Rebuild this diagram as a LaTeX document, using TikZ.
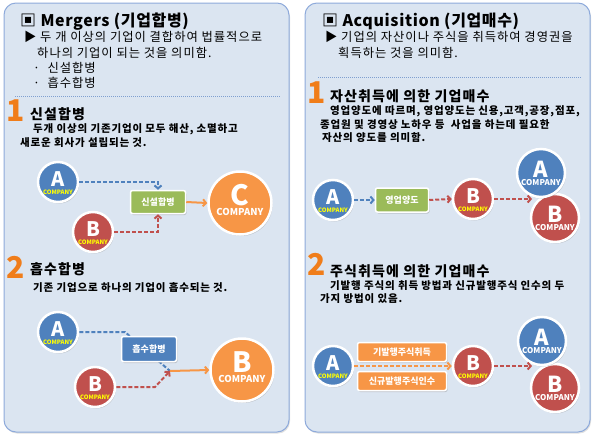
\documentclass[tikz,border=0pt]{standalone}
\usepackage{fontspec}
\setmainfont{Noto Sans CJK KR}
\newfontfamily\krsp{Noto Sans CJK KR}[LetterSpace=8]
\newfontfamily\krsq{Noto Sans CJK KR}[LetterSpace=4]
\usetikzlibrary{shadows,arrows.meta}
\definecolor{panelfill}{HTML}{DBE5F1}
\definecolor{panelline}{HTML}{8EAADB}
\definecolor{cblue}{HTML}{4F81BD}
\definecolor{cred}{HTML}{C0504D}
\definecolor{corange}{HTML}{F79646}
\definecolor{cgreen}{HTML}{9BBB59}
\definecolor{numorange}{HTML}{F07D1A}
\definecolor{cyellow}{HTML}{FFFF00}
\definecolor{dotblue}{HTML}{7F9FD0}
\newcommand\mytitlefont{\krsq\fontsize{16}{18}\selectfont\bfseries}
\newcommand\mybodyfont{\krsp\fontsize{12.3}{14}\selectfont}
\newcommand\myheadfont{\krsp\fontsize{14}{16}\selectfont\bfseries}
\newcommand\mysubfont{\krsp\fontsize{10.5}{12}\selectfont\bfseries}
\tikzset{
 panel/.style={draw=panelline, line width=1pt, fill=panelfill, rounded corners=12pt,
   drop shadow={opacity=0.25, shadow xshift=1pt, shadow yshift=-1.5pt}},
 txt/.style={anchor=base west, inner sep=0pt, text=black},
 numeral/.style={anchor=north west, inner sep=0pt, text=numorange, font=\fontsize{30}{30}\selectfont\bfseries},
 sepline/.style={draw=dotblue, line width=0.8pt, dash pattern=on 1pt off 1pt},
 co/.style={circle, draw=white, line width=2.5pt, minimum size=40pt, inner sep=0pt,
   drop shadow={opacity=0.35, shadow xshift=1pt, shadow yshift=-1.5pt}},
 coM/.style={co, minimum size=48pt},
 coL/.style={co, minimum size=63pt},
 letS/.style={inner sep=0pt, text=white, font=\fontsize{20}{20}\selectfont\bfseries},
 compS/.style={inner sep=0pt, text=cyellow, font=\fontsize{6}{6}\selectfont\bfseries},
 letM/.style={inner sep=0pt, text=white, font=\fontsize{22}{22}\selectfont\bfseries},
 compM/.style={inner sep=0pt, text=white, font=\fontsize{8}{8}\selectfont\bfseries},
 letL/.style={inner sep=0pt, text=white, font=\fontsize{28}{28}\selectfont\bfseries},
 compL/.style={inner sep=0pt, text=white, font=\fontsize{9.5}{9.5}\selectfont\bfseries},
 proc/.style={rounded corners=2pt, draw=white, line width=1.5pt, text=white, inner sep=0pt,
   font=\fontsize{9}{9}\selectfont\bfseries,
   drop shadow={opacity=0.35, shadow xshift=1pt, shadow yshift=-1.5pt}},
 dl/.style={line width=2pt, dash pattern=on 4pt off 2pt},
 tip/.style={-{Straight Barb[length=3pt,width=7pt]}},
}
\begin{document}
\begin{tikzpicture}[x=1pt,y=-1pt]
\useasboundingbox (0,0) rectangle (600,437);
% panels
\path[panel] (4,3) rectangle (289,432);
\path[panel] (305,3) rectangle (590,432);

% ---------- left panel ----------
\node[txt, font=\mytitlefont] (lt) at (20,26) {▣ Mergers (기업합병)};
\node[txt, font=\mybodyfont] (l1) at (24,41) {▶ 두 개 이상의 기업이 결합하여 법률적으로};
\node[txt, font=\mybodyfont] (l2) at (37,57) {하나의 기업이 되는 것을 의미함.};
\node[txt, font=\mybodyfont] (l3) at (33,72) {·\ \ 신설합병};
\node[txt, font=\mybodyfont] (l4) at (33,87) {·\ \ 흡수합병};
\draw[sepline] (15,96) -- (281,96);

\node[numeral] (n1) at (6,100) {1};
\node[txt, font=\myheadfont] (h1) at (30,119) {신설합병};
\node[txt, font=\mysubfont] (s1a) at (33,132) {두개 이상의 기존기업이 모두 해산, 소멸하고};
\node[txt, font=\mysubfont] (s1b) at (20,146) {새로운 회사가 설립되는 것.};

\node[co, fill=cblue] (a1) at (58,182) {};
\node[letS] at ([yshift=3pt]a1.center) {A};
\node[compS] at ([yshift=-10pt]a1.center) {COMPANY};
\node[co, fill=cred] (b1) at (93,232) {};
\node[letS] at ([yshift=3pt]b1.center) {B};
\node[compS] at ([yshift=-10pt]b1.center) {COMPANY};
\node[proc, fill=cgreen, minimum width=55pt, minimum height=23pt] (g1) at (158,202) {신설합병};
\node[coL, fill=corange] (c1) at (240,203) {};
\node[letL] at ([yshift=8pt]c1.center) {C};
\node[compL] at ([yshift=-9pt]c1.center) {COMPANY};
\draw[dl, tip, cblue] (a1.east) -| (g1.north);
\draw[dl, tip, cred] (b1.east) -| (g1.south);
\draw[line width=2pt, tip, corange] (g1.east) -- (c1.west);

\node[numeral] (n2) at (6,256) {2};
\node[txt, font=\myheadfont] (h2) at (30,274) {흡수합병};
\node[txt, font=\mysubfont] (s2a) at (33,291) {기존 기업으로 하나의 기업이 흡수되는 것.};

\node[co, fill=cblue] (a2) at (58,332) {};
\node[letS] at ([yshift=3pt]a2.center) {A};
\node[compS] at ([yshift=-10pt]a2.center) {COMPANY};
\node[co, fill=cred] (b2) at (95,387) {};
\node[letS] at ([yshift=3pt]b2.center) {B};
\node[compS] at ([yshift=-10pt]b2.center) {COMPANY};
\node[coL, fill=corange] (bb2) at (242,370) {};
\node[letL] at ([yshift=8pt]bb2.center) {B};
\node[compL] at ([yshift=-9pt]bb2.center) {COMPANY};
\coordinate (k1) at (125,332);
\coordinate (k2) at (155,387);
\coordinate (m2) at (170,371);
\draw[dl, cblue] (a2.east) -- (k1) -- (m2);
\node[proc, fill=cblue, minimum width=55pt, minimum height=25pt] (g2) at (149,349) {흡수합병};
\draw[dl, tip, cred] (b2.east) -- (k2) -- (m2);
\draw[line width=2pt, tip, corange] (m2) -- (bb2.west);

% ---------- right panel ----------
\node[txt, font=\mytitlefont] (rt) at (322,26) {▣ Acquisition (기업매수)};
\node[txt, font=\mybodyfont] (r1) at (325,41) {▶ 기업의 자산이나 주식을 취득하여 경영권을};
\node[txt, font=\mybodyfont] (r2) at (338,57) {획득하는 것을 의미함.};
\draw[sepline] (318,77) -- (582,77);

\node[numeral] (n3) at (307,82) {1};
\node[txt, font=\myheadfont] (h3) at (330,101) {자산취득에 의한 기업매수};
\node[txt, font=\mysubfont] (s3a) at (330,114) {영업양도에 따르며, 영업양도는 신용,고객,공장,점포,};
\node[txt, font=\mysubfont] (s3b) at (320,128) {종업원 및 경영상 노하우 등\ \ 사업을 하는데 필요한};
\node[txt, font=\mysubfont] (s3c) at (322,141) {자산의 양도를 의미함.};

\node[co, fill=cblue] (a3) at (333,200) {};
\node[letS] at ([yshift=3pt]a3.center) {A};
\node[compS] at ([yshift=-10pt]a3.center) {COMPANY};
\node[proc, fill=cgreen, minimum width=53pt, minimum height=24pt] (g3) at (402,200) {영업양도};
\node[co, fill=cred] (b3) at (473,199) {};
\node[letS] at ([yshift=3pt]b3.center) {B};
\node[compS] at ([yshift=-10pt]b3.center) {COMPANY};
\node[coM, fill=cred] (bb3) at (555,218) {};
\node[letM] at ([yshift=4pt]bb3.center) {B};
\node[compM] at ([yshift=-10pt]bb3.center) {COMPANY};
\node[coM, fill=cblue] (ba3) at (541,173) {};
\node[letM] at ([yshift=4pt]ba3.center) {A};
\node[compM] at ([yshift=-10pt]ba3.center) {COMPANY};
\coordinate (t3) at (532,199);
\draw[dl, tip, cblue] (a3.east) -- (g3.west);
\draw[dl, tip, cred] (g3.east) -- (b3.west);
\draw[dl, tip, cred] (b3.east) -- (t3);

\node[numeral] (n4) at (307,253) {2};
\node[txt, font=\myheadfont] (h4) at (330,276) {주식취득에 의한 기업매수};
\node[txt, font=\mysubfont] (s4a) at (330,289) {기발행 주식의 취득 방법과 신규발행주식 인수의 두};
\node[txt, font=\mysubfont] (s4b) at (320,302) {가지 방법이 있음.};

\node[co, fill=cblue] (a4) at (333,366) {};
\node[letS] at ([yshift=3pt]a4.center) {A};
\node[compS] at ([yshift=-10pt]a4.center) {COMPANY};
\node[proc, fill=corange, minimum width=89pt, minimum height=19pt] (o1) at (402,352) {기발행주식취득};
\node[proc, fill=corange, minimum width=89pt, minimum height=19pt] (o2) at (402,381) {신규발행주식인수};
\node[co, fill=cred] (b4) at (473,366) {};
\node[letS] at ([yshift=3pt]b4.center) {B};
\node[compS] at ([yshift=-10pt]b4.center) {COMPANY};
\node[coM, fill=cred] (bb4) at (555,388) {};
\node[letM] at ([yshift=4pt]bb4.center) {B};
\node[compM] at ([yshift=-10pt]bb4.center) {COMPANY};
\node[coM, fill=cblue] (ba4) at (542,341) {};
\node[letM] at ([yshift=4pt]ba4.center) {A};
\node[compM] at ([yshift=-10pt]ba4.center) {COMPANY};
\coordinate (t4) at (532,366);
\draw[dl, tip, corange] (a4.east) -- (b4.west);
\draw[dl, tip, cred] (b4.east) -- (t4);
\end{tikzpicture}
\end{document}
